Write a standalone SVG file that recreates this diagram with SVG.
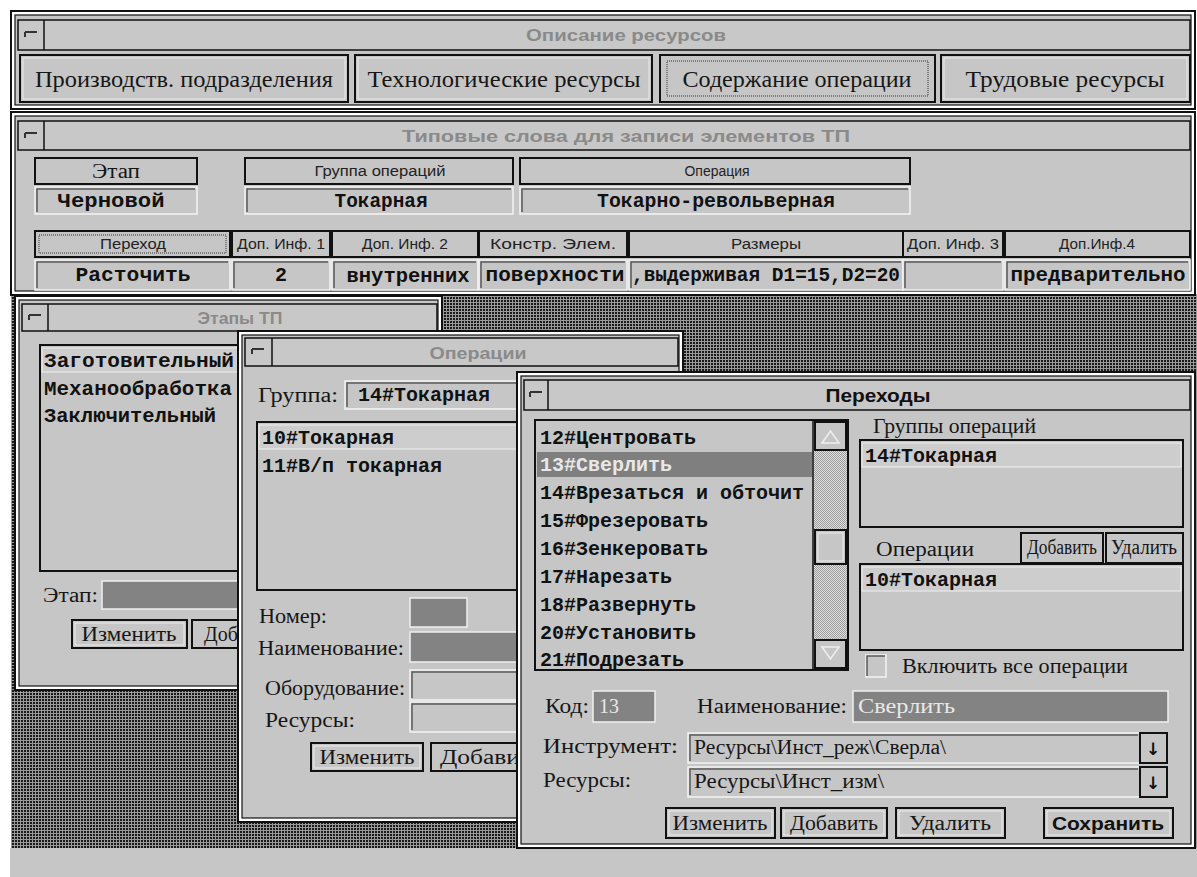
<svg xmlns="http://www.w3.org/2000/svg" width="1197" height="877" viewBox="0 0 1197 877">
<style>
.frame{fill:#fff;stroke:#111;stroke-width:2}
.inner{fill:#c6c6c6;stroke:#111;stroke-width:1.2}
.tbar{fill:#c8c8c8;stroke:#111;stroke-width:1.5}
.sep{stroke:#111;stroke-width:1.5}
.cls{fill:none;stroke:#333;stroke-width:2}
.btn{fill:#c6c6c6;stroke:#111;stroke-width:2}
.bhi{fill:none;stroke:#ececec;stroke-width:1}
.fld{fill:#c6c6c6;stroke:#f4f4f4;stroke-width:1.5}
.fsh{fill:none;stroke:#5a5a5a;stroke-width:1.5}
.dark{fill:#838383;stroke:#f0f0f0;stroke-width:1.5}
.list{fill:#c6c6c6;stroke:#111;stroke-width:2}
.focus{fill:none;stroke:#333;stroke-width:1;stroke-dasharray:1 1}
.ser{font-family:"Liberation Serif","DejaVu Serif",serif;font-size:20px;fill:#161616}
.big{font-size:24px}
.mono{font-family:"Liberation Mono","DejaVu Sans Mono",monospace;font-weight:bold;font-size:20px;fill:#111}
.sm{font-family:"Liberation Sans",Arial,sans-serif;font-size:14px;fill:#222}
.ttl{font-family:"Liberation Sans",Arial,sans-serif;font-size:17px;font-weight:bold;fill:#8a8a8a}
.mid{text-anchor:middle}
.lt{fill:#e8e8e8}
</style>
<defs>
<pattern id="desk" width="3" height="3" patternUnits="userSpaceOnUse"><rect width="3" height="3" fill="#9a9a9a"/><rect width="2" height="2" fill="#1a1a1a"/></pattern>
<pattern id="track" width="2" height="2" patternUnits="userSpaceOnUse"><rect width="2" height="2" fill="#e0e0e0"/><rect width="1" height="1" fill="#9c9c9c"/><rect x="1" y="1" width="1" height="1" fill="#9c9c9c"/></pattern>
</defs>
<rect width="1197" height="877" fill="#fff"/>

<g id="desktop">
<rect x="11" y="294" width="1186" height="554" fill="url(#desk)"/>
<rect x="10" y="848" width="1187" height="29" fill="#c6c6c6"/>
</g>

<g id="win-opisanie">
<rect class="frame" x="11" y="11" width="1184" height="98"/>
<rect class="inner" x="15" y="15" width="1176" height="90"/>
<rect class="tbar" x="18" y="20" width="1172" height="30"/>
<line class="sep" x1="44" y1="20" x2="44" y2="50"/>
<path class="cls" d="M25 32h12M25 32v5"/>
<text class="ttl mid" x="626" y="41" textLength="200" lengthAdjust="spacingAndGlyphs">Описание ресурсов</text>
<rect class="btn" x="20" y="55" width="328" height="47"/><rect class="bhi" x="23" y="58" width="322" height="41"/>
<text class="ser big mid" x="184" y="87" textLength="298" lengthAdjust="spacingAndGlyphs">Производств. подразделения</text>
<rect class="btn" x="355" y="55" width="297" height="47"/><rect class="bhi" x="358" y="58" width="291" height="41"/>
<text class="ser big mid" x="504" y="87" textLength="273" lengthAdjust="spacingAndGlyphs">Технологические ресурсы</text>
<rect class="btn" x="660" y="55" width="275" height="47"/><rect class="focus" x="667" y="61" width="261" height="35"/>
<text class="ser big mid" x="797" y="87" textLength="229" lengthAdjust="spacingAndGlyphs">Содержание операции</text>
<rect class="btn" x="941" y="55" width="249" height="47"/><rect class="bhi" x="944" y="58" width="243" height="41"/>
<text class="ser big mid" x="1065" y="87" textLength="199" lengthAdjust="spacingAndGlyphs">Трудовые ресурсы</text>
</g>

<g id="win-tipovye">
<rect class="frame" x="11" y="112" width="1184" height="183"/>
<rect class="inner" x="15" y="116" width="1176" height="175"/>
<rect class="tbar" x="18" y="121" width="1172" height="29"/>
<line class="sep" x1="44" y1="121" x2="44" y2="150"/>
<path class="cls" d="M25 133h12M25 133v5"/>
<text class="ttl mid" x="626" y="142" textLength="448" lengthAdjust="spacingAndGlyphs">Типовые слова для записи элементов ТП</text>

<rect class="btn" x="35" y="158" width="162" height="26"/>
<text class="ser mid" x="116" y="178" font-size="19" textLength="48" lengthAdjust="spacingAndGlyphs">Этап</text>
<rect class="fld" x="35" y="187" width="162" height="27"/><path class="fsh" d="M37 212V189H195"/>
<text class="mono mid" x="111" y="207" font-size="19" textLength="107" lengthAdjust="spacingAndGlyphs">Черновой</text>

<rect class="btn" x="245" y="158" width="268" height="26"/>
<text class="sm mid" x="380" y="176" textLength="131" lengthAdjust="spacingAndGlyphs">Группа операций</text>
<rect class="fld" x="245" y="187" width="268" height="27"/><path class="fsh" d="M247 212V189H511"/>
<text class="mono mid" x="381" y="207" font-size="19" textLength="93" lengthAdjust="spacingAndGlyphs">Токарная</text>

<rect class="btn" x="520" y="158" width="390" height="26"/>
<text class="sm mid" x="717" y="176" textLength="65" lengthAdjust="spacingAndGlyphs">Операция</text>
<rect class="fld" x="520" y="187" width="390" height="27"/><path class="fsh" d="M522 212V189H908"/>
<text class="mono mid" x="716" y="207" font-size="19" textLength="238" lengthAdjust="spacingAndGlyphs">Токарно-револьверная</text>

<rect class="btn" x="35" y="231" width="195" height="26"/><rect class="focus" x="39" y="235" width="187" height="18"/>
<text class="sm mid" x="133" y="249" textLength="66" lengthAdjust="spacingAndGlyphs">Переход</text>
<rect class="btn" x="232" y="231" width="98" height="26"/>
<text class="sm mid" x="281" y="249" textLength="88" lengthAdjust="spacingAndGlyphs">Доп. Инф. 1</text>
<rect class="btn" x="332" y="231" width="146" height="26"/>
<text class="sm mid" x="405" y="249" textLength="86" lengthAdjust="spacingAndGlyphs">Доп. Инф. 2</text>
<rect class="btn" x="479" y="231" width="148" height="26"/>
<text class="sm mid" x="553" y="249" textLength="126" lengthAdjust="spacingAndGlyphs">Констр. Элем.</text>
<rect class="btn" x="629" y="231" width="274" height="26"/>
<text class="sm mid" x="766" y="249" textLength="70" lengthAdjust="spacingAndGlyphs">Размеры</text>
<rect class="btn" x="903" y="231" width="100" height="26"/>
<text class="sm mid" x="953" y="249" textLength="92" lengthAdjust="spacingAndGlyphs">Доп. Инф. 3</text>
<rect class="btn" x="1005" y="231" width="185" height="26"/>
<text class="sm mid" x="1097" y="249" textLength="76" lengthAdjust="spacingAndGlyphs">Доп.Инф.4</text>

<rect class="fld" x="35" y="260" width="195" height="30"/><path class="fsh" d="M37 288V262H228"/>
<text class="mono mid" x="133" y="281" font-size="20" textLength="115" lengthAdjust="spacingAndGlyphs">Расточить</text>
<rect class="fld" x="232" y="260" width="98" height="30"/><path class="fsh" d="M234 288V262H328"/>
<text class="mono mid" x="281" y="281" font-size="20">2</text>
<rect class="fld" x="332" y="260" width="146" height="30"/><path class="fsh" d="M334 288V262H476"/>
<text class="mono mid" x="408" y="282" font-size="20" textLength="123" lengthAdjust="spacingAndGlyphs">внутренних</text>
<rect class="fld" x="479" y="260" width="148" height="30"/><path class="fsh" d="M481 288V262H625"/>
<text class="mono mid" x="555" y="281" font-size="20" textLength="139" lengthAdjust="spacingAndGlyphs">поверхности</text>
<rect class="fld" x="629" y="260" width="274" height="30"/><path class="fsh" d="M631 288V262H901"/>
<text class="mono" x="632" y="281" font-size="20" textLength="268" lengthAdjust="spacingAndGlyphs">,выдерживая D1=15,D2=20</text>
<rect class="fld" x="903" y="260" width="100" height="30"/><path class="fsh" d="M905 288V262H1001"/>
<rect class="fld" x="1005" y="260" width="185" height="30"/><path class="fsh" d="M1007 288V262H1188"/>
<text class="mono mid" x="1098" y="281" font-size="20" textLength="175" lengthAdjust="spacingAndGlyphs">предварительно</text>
</g>

<g id="win-etapy">
<rect class="frame" x="15" y="296" width="427" height="394"/>
<rect class="inner" x="19" y="300" width="419" height="386"/>
<rect class="tbar" x="22" y="304" width="415" height="27"/>
<line class="sep" x1="48" y1="304" x2="48" y2="331"/>
<path class="cls" d="M29 315h12M29 315v5"/>
<text class="ttl mid" x="240" y="324" textLength="85" lengthAdjust="spacingAndGlyphs">Этапы ТП</text>
<rect class="list" x="40" y="345" width="220" height="226"/>
<rect x="42" y="348" width="216" height="24" fill="#cdcdcd" stroke="#efefef" stroke-width="1"/>
<text class="mono" x="44" y="367" textLength="190" lengthAdjust="spacingAndGlyphs">Заготовительный</text>
<text class="mono" x="44" y="395" textLength="188" lengthAdjust="spacingAndGlyphs">Механообработка</text>
<text class="mono" x="44" y="422" textLength="172" lengthAdjust="spacingAndGlyphs">Заключительный</text>
<text class="ser" x="43" y="602" textLength="55" lengthAdjust="spacingAndGlyphs">Этап:</text>
<rect class="dark" x="102" y="581" width="150" height="28"/>
<rect class="btn" x="72" y="620" width="115" height="28"/><rect class="bhi" x="75" y="623" width="109" height="22"/>
<text class="ser mid" x="129" y="641" textLength="95" lengthAdjust="spacingAndGlyphs">Изменить</text>
<rect class="btn" x="192" y="620" width="70" height="28"/>
<text class="ser" x="204" y="641">Доб</text>
</g>

<g id="win-operacii">
<rect class="frame" x="238" y="331" width="445" height="491"/>
<rect class="inner" x="242" y="335" width="437" height="483"/>
<rect class="tbar" x="245" y="338" width="433" height="28"/>
<line class="sep" x1="272" y1="338" x2="272" y2="366"/>
<path class="cls" d="M252 349h12M252 349v5"/>
<text class="ttl mid" x="478" y="359" textLength="97" lengthAdjust="spacingAndGlyphs">Операции</text>
<text class="ser" x="258" y="402" textLength="80" lengthAdjust="spacingAndGlyphs">Группа:</text>
<rect class="fld" x="345" y="381" width="185" height="28"/><path class="fsh" d="M347 407V383H528"/>
<text class="mono" x="358" y="401" textLength="132" lengthAdjust="spacingAndGlyphs">14#Токарная</text>
<rect class="list" x="257" y="422" width="275" height="168"/>
<rect x="259" y="425" width="270" height="24" fill="#cdcdcd" stroke="#efefef" stroke-width="1"/>
<text class="mono" x="262" y="444">10#Токарная</text>
<text class="mono" x="262" y="472">11#В/п токарная</text>
<text class="ser" x="259" y="623" textLength="68" lengthAdjust="spacingAndGlyphs">Номер:</text>
<rect class="dark" x="410" y="598" width="57" height="29"/>
<text class="ser" x="258" y="655" textLength="146" lengthAdjust="spacingAndGlyphs">Наименование:</text>
<rect class="dark" x="410" y="632" width="120" height="30"/>
<text class="ser" x="265" y="695" textLength="140" lengthAdjust="spacingAndGlyphs">Оборудование:</text>
<rect class="fld" x="410" y="670" width="120" height="30"/><path class="fsh" d="M412 698V672H528"/>
<text class="ser" x="265" y="727" textLength="90" lengthAdjust="spacingAndGlyphs">Ресурсы:</text>
<rect class="fld" x="410" y="702" width="120" height="30"/><path class="fsh" d="M412 730V704H528"/>
<rect class="btn" x="311" y="743" width="112" height="28"/><rect class="bhi" x="314" y="746" width="106" height="22"/>
<text class="ser mid" x="367" y="764" textLength="95" lengthAdjust="spacingAndGlyphs">Изменить</text>
<rect class="btn" x="431" y="743" width="100" height="28"/>
<text class="ser" x="440" y="764" textLength="80" lengthAdjust="spacingAndGlyphs">Добави</text>
</g>

<g id="win-perehody">
<rect class="frame" x="517" y="372" width="678" height="476"/>
<rect class="inner" x="521" y="376" width="670" height="468"/>
<rect class="tbar" x="524" y="380" width="666" height="30"/>
<line class="sep" x1="548" y1="380" x2="548" y2="410"/>
<path class="cls" d="M530 392h12M530 392v5"/>
<text class="mid" x="878" y="402" font-family="Liberation Sans, Arial, sans-serif" font-weight="bold" font-size="18" fill="#111" textLength="105" lengthAdjust="spacingAndGlyphs">Переходы</text>

<rect class="list" x="535" y="420" width="313" height="250"/>
<rect x="814" y="421" width="33" height="248" fill="url(#track)"/>
<line class="sep" x1="813" y1="420" x2="813" y2="670"/>
<rect class="btn" x="815" y="422" width="31" height="28" stroke-width="1.2"/>
<path d="M822 443l8.5-12 8.5 12z" fill="none" stroke="#efefef" stroke-width="1.5"/>
<rect class="btn" x="815" y="530" width="31" height="34" stroke-width="1.2"/><rect class="bhi" x="818" y="533" width="25" height="28"/>
<rect class="btn" x="815" y="640" width="31" height="28" stroke-width="1.2"/>
<path d="M822 647l8.5 12 8.5-12z" fill="none" stroke="#efefef" stroke-width="1.5"/>
<rect x="537" y="452" width="275" height="25" fill="#7f7f7f"/>
<text class="mono" x="540" y="444">12#Центровать</text>
<text class="mono lt" x="540" y="471">13#Сверлить</text>
<text class="mono" x="540" y="499">14#Врезаться и обточит</text>
<text class="mono" x="540" y="527">15#Фрезеровать</text>
<text class="mono" x="540" y="555">16#Зенкеровать</text>
<text class="mono" x="540" y="583">17#Нарезать</text>
<text class="mono" x="540" y="611">18#Развернуть</text>
<text class="mono" x="540" y="639">20#Установить</text>
<text class="mono" x="540" y="666">21#Подрезать</text>

<text class="ser" x="873" y="433" textLength="163" lengthAdjust="spacingAndGlyphs">Группы операций</text>
<rect class="list" x="860" y="440" width="323" height="87"/>
<rect x="862" y="443" width="319" height="24" fill="#cdcdcd" stroke="#efefef" stroke-width="1"/>
<text class="mono" x="865" y="462">14#Токарная</text>
<text class="ser" x="876" y="556" textLength="98" lengthAdjust="spacingAndGlyphs">Операции</text>
<rect class="btn" x="1021" y="533" width="82" height="30"/>
<text class="ser mid" x="1062" y="554" font-size="17" textLength="70" lengthAdjust="spacingAndGlyphs">Добавить</text>
<rect class="btn" x="1106" y="533" width="77" height="30"/>
<text class="ser mid" x="1144" y="554" font-size="17" textLength="66" lengthAdjust="spacingAndGlyphs">Удалить</text>
<rect class="list" x="860" y="564" width="323" height="86"/>
<rect x="862" y="567" width="319" height="24" fill="#cdcdcd" stroke="#efefef" stroke-width="1"/>
<text class="mono" x="865" y="586">10#Токарная</text>
<rect class="fld" x="866" y="655" width="20" height="22"/><path class="fsh" d="M867 676V656H885"/>
<text class="ser" x="902" y="673" textLength="226" lengthAdjust="spacingAndGlyphs">Включить все операции</text>

<text class="ser" x="545" y="713" textLength="44" lengthAdjust="spacingAndGlyphs">Код:</text>
<rect class="dark" x="593" y="691" width="62" height="31"/>
<text class="ser lt" x="599" y="713" font-size="17">13</text>
<text class="ser" x="697" y="713" textLength="150" lengthAdjust="spacingAndGlyphs">Наименование:</text>
<rect class="dark" x="853" y="691" width="315" height="31"/>
<text class="ser lt" x="858" y="713" textLength="97" lengthAdjust="spacingAndGlyphs">Сверлить</text>

<text class="ser" x="543" y="753" textLength="135" lengthAdjust="spacingAndGlyphs">Инструмент:</text>
<rect class="fld" x="688" y="733" width="452" height="30"/><path class="fsh" d="M690 761V735H1138"/>
<text class="ser" x="694" y="754" textLength="252" lengthAdjust="spacingAndGlyphs">Ресурсы\Инст_реж\Сверла\</text>
<rect class="btn" x="1140" y="733" width="27" height="30"/>
<text class="mid" x="1153" y="755" font-family="DejaVu Sans, sans-serif" font-weight="bold" font-size="17" fill="#111">↓</text>
<text class="ser" x="543" y="787" textLength="88" lengthAdjust="spacingAndGlyphs">Ресурсы:</text>
<rect class="fld" x="688" y="767" width="452" height="30"/><path class="fsh" d="M690 795V769H1138"/>
<text class="ser" x="694" y="788" textLength="190" lengthAdjust="spacingAndGlyphs">Ресурсы\Инст_изм\</text>
<rect class="btn" x="1140" y="767" width="27" height="30"/>
<text class="mid" x="1153" y="789" font-family="DejaVu Sans, sans-serif" font-weight="bold" font-size="17" fill="#111">↓</text>

<rect class="btn" x="666" y="808" width="109" height="30"/><rect class="bhi" x="669" y="811" width="103" height="24"/>
<text class="ser mid" x="720" y="830" textLength="95" lengthAdjust="spacingAndGlyphs">Изменить</text>
<rect class="btn" x="781" y="808" width="106" height="30"/><rect class="bhi" x="784" y="811" width="100" height="24"/>
<text class="ser mid" x="834" y="830" textLength="88" lengthAdjust="spacingAndGlyphs">Добавить</text>
<rect class="btn" x="896" y="808" width="109" height="30"/><rect class="bhi" x="899" y="811" width="103" height="24"/>
<text class="ser mid" x="950" y="830" textLength="82" lengthAdjust="spacingAndGlyphs">Удалить</text>
<rect class="btn" x="1044" y="808" width="129" height="30"/><rect class="bhi" x="1047" y="811" width="123" height="24"/>
<text class="mid" x="1108" y="830" font-family="Liberation Sans, Arial, sans-serif" font-weight="bold" font-size="18" fill="#111" textLength="112" lengthAdjust="spacingAndGlyphs">Сохранить</text>
</g>
</svg>
